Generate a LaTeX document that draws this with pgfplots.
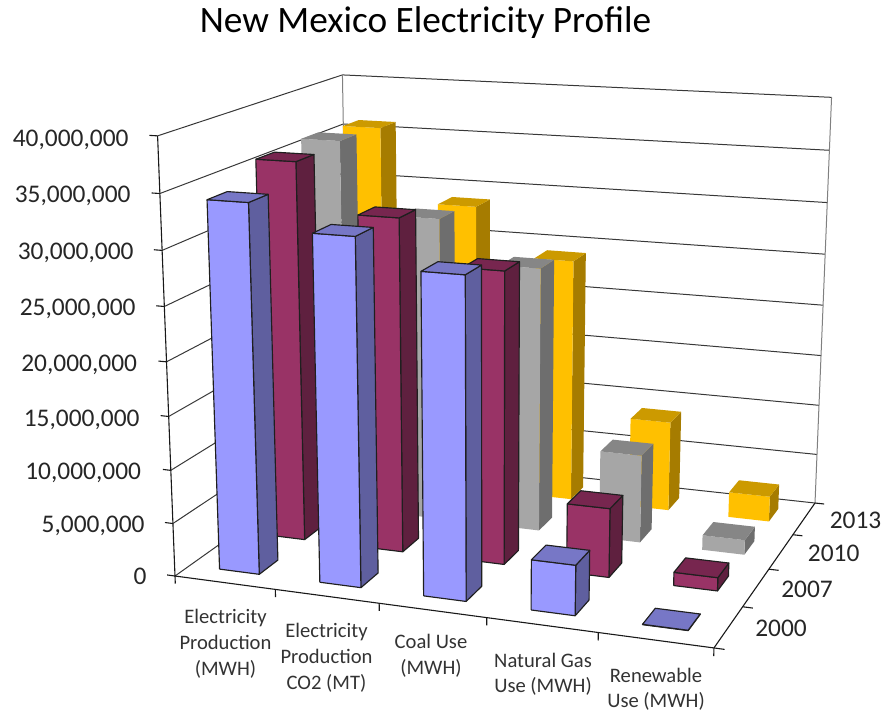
\documentclass[border=0pt]{standalone}
\usepackage{fontspec}
\setmainfont{Carlito}
\usepackage{pgfplots}
\pgfplotsset{compat=1.18}

% Fill colours of the bars: front, side and top face
\definecolor{blueF}{HTML}{9999FF}\definecolor{blueS}{HTML}{5F5F9F}\definecolor{blueT}{HTML}{7777C6}
\definecolor{maroF}{HTML}{993366}\definecolor{maroS}{HTML}{5F203F}\definecolor{maroT}{HTML}{77264F}
\definecolor{grayF}{HTML}{A6A6A6}\definecolor{grayS}{HTML}{6E6E6E}\definecolor{grayT}{HTML}{868686}
\definecolor{yellF}{HTML}{FFC000}\definecolor{yellS}{HTML}{A67C00}\definecolor{yellT}{HTML}{CC9A00}

\pgfplotsset{
  edgeblue/.style={draw=black!88,line width=1.15pt,line join=round},
  edgemaro/.style={draw=black!88,line width=1.15pt,line join=round},
  edgegray/.style={draw=none},
  edgeyell/.style={draw=none},
  gridline/.style={draw=black!78,line width=1pt},
  walledge/.style={draw=black!50,line width=1pt},
  axisline/.style={draw=black!90,line width=1.1pt},
}

% Perspective projection of (u,v,w) in the unit box to page coordinates:
% u runs along the categories, v along the years, w up the value axis.
\newcommand\proj[4]{%
  \pgfmathsetmacro\prjD{-0.085*(#1)+0.175*(#2)-0.0526*(#3)+1}%
  \pgfmathsetmacro\prjX{(478.3*(#1)+235.05*(#2)-25.7*(#3)+175)/\prjD}%
  \pgfmathsetmacro\prjY{(16.9*(#1)-44.63*(#2)-447.3*(#3)+576)/\prjD}%
  \expandafter\edef\csname #4\endcsname{(\prjX,\prjY)}%
}
\newcommand\segment[7]{%
  \proj{#2}{#3}{#4}{ptA}\proj{#5}{#6}{#7}{ptB}%
  \edef\plotcmd{\noexpand\addplot[#1] coordinates {\ptA\ptB};}\plotcmd
}
% One bar: category index, year index, value in millions, colour prefix
\newcommand\drawbar[4]{%
  \pgfmathsetmacro\bUl{(#1+0.3)/5}\pgfmathsetmacro\bUr{(#1+0.7)/5}%
  \pgfmathsetmacro\bVf{(#2+0.3)/4}\pgfmathsetmacro\bVb{(#2+0.7)/4}%
  \pgfmathsetmacro\bW{#3/40}%
  \proj{\bUl}{\bVf}{0}{pa}\proj{\bUr}{\bVf}{0}{pb}\proj{\bUr}{\bVb}{0}{pc}%
  \proj{\bUl}{\bVf}{\bW}{pe}\proj{\bUr}{\bVf}{\bW}{pf}\proj{\bUr}{\bVb}{\bW}{pg}\proj{\bUl}{\bVb}{\bW}{ph}%
  \edef\plotcmd{\noexpand\addplot[fill=#4S,edge#4] coordinates {\pb\pc\pg\pf\pb};}\plotcmd
  \edef\plotcmd{\noexpand\addplot[fill=#4F,edge#4] coordinates {\pa\pb\pf\pe\pa};}\plotcmd
  \edef\plotcmd{\noexpand\addplot[fill=#4T,edge#4] coordinates {\pe\pf\pg\ph\pe};}\plotcmd
}
\newcommand\vlabel[3]{\node[anchor=base east,font=\fontsize{25.4}{28}\selectfont,text=black!85] at (axis cs:#1,#2) {#3};}
\newcommand\ylabel[3]{\node[anchor=base,font=\fontsize{25.4}{28}\selectfont,text=black!85] at (axis cs:#1,#2) {#3};}
\newcommand\clabel[3]{\node[anchor=base,font=\fontsize{20.6}{24}\selectfont,text=black!80] at (axis cs:#1,#2) {#3};}

\begin{document}
\begin{tikzpicture}
\begin{axis}[
  scale only axis,width=885pt,height=713pt,
  xmin=0,xmax=885,ymin=0,ymax=713,y dir=reverse,
  hide axis,clip=false,
]
% Page frame, so the drawing keeps its full extent
\path (axis cs:0,0) rectangle (axis cs:885,713);
% Side wall and back wall with their value lines
\pgfplotsforeachungrouped \k in {0,...,8}{%
  \pgfmathsetmacro\kw{\k/8}%
  \segment{gridline}{0}{0}{\kw}{0}{1}{\kw}%
  \segment{gridline}{0}{1}{\kw}{1}{1}{\kw}%
  \segment{axisline}{0}{0}{\kw}{-0.016}{0}{\kw}%
}
\segment{walledge}{0}{1}{0}{0}{1}{1}
\segment{walledge}{1}{1}{0}{1}{1}{1}
% Floor edges and their tick marks
\segment{axisline}{0}{0}{0}{0}{0}{1}
\segment{axisline}{0}{0}{0}{1}{0}{0}
\segment{axisline}{1}{0}{0}{1}{1}{0}
\pgfplotsforeachungrouped \k in {0,...,5}{%
  \pgfmathsetmacro\ku{\k/5}%
  \segment{axisline}{\ku}{0}{0}{\ku}{0}{-0.018}%
}
\pgfplotsforeachungrouped \k in {0,...,4}{%
  \pgfmathsetmacro\kv{\k/4}%
  \segment{axisline}{1}{\kv}{0}{1.018}{\kv}{0}%
}

% Values in millions, back row first so that nearer bars overlap farther ones
% 2013
\drawbar{0}{3}{36.0}{yell}\drawbar{1}{3}{28.8}{yell}\drawbar{2}{3}{24.1}{yell}\drawbar{3}{3}{8.9}{yell}\drawbar{4}{3}{2.5}{yell}
% 2010
\drawbar{0}{2}{36.3}{gray}\drawbar{1}{2}{29.5}{gray}\drawbar{2}{2}{25.5}{gray}\drawbar{3}{2}{8.5}{gray}\drawbar{4}{2}{1.42}{gray}
% 2007
\drawbar{0}{1}{36.0}{maro}\drawbar{1}{1}{31.5}{maro}\drawbar{2}{1}{27.4}{maro}\drawbar{3}{1}{6.5}{maro}\drawbar{4}{1}{1.24}{maro}
% 2000
\drawbar{0}{0}{34.1}{blue}\drawbar{1}{0}{31.8}{blue}\drawbar{2}{0}{29.2}{blue}\drawbar{3}{0}{4.6}{blue}\drawbar{4}{0}{0.03}{blue}

% Title and axis labels
\node[anchor=base,font=\fontsize{37.3}{40}\selectfont,text=black] at (axis cs:425.5,32) {New Mexico Electricity Profile};
\vlabel{132}{146}{40,000,000}
\vlabel{134}{202}{35,000,000}
\vlabel{137}{259}{30,000,000}
\vlabel{139}{315}{25,000,000}
\vlabel{140.5}{371}{20,000,000}
\vlabel{143}{426}{15,000,000}
\vlabel{144.5}{479}{10,000,000}
\vlabel{148}{532}{5,000,000}
\vlabel{150}{584}{0}
\ylabel{781}{636}{2000}
\ylabel{807}{597}{2007}
\ylabel{833.7}{561}{2010}
\ylabel{855.5}{528}{2013}
\clabel{225.5}{623}{Electricity}
\clabel{225.5}{649}{Production}
\clabel{225.5}{675}{(MWH)}
\clabel{326.5}{637}{Electricity}
\clabel{326.5}{663}{Production}
\clabel{326.5}{689}{CO2 (MT)}
\clabel{431}{648}{Coal Use}
\clabel{431}{674}{(MWH)}
\clabel{543}{667}{Natural Gas}
\clabel{543}{692}{Use (MWH)}
\clabel{656}{682}{Renewable}
\clabel{656}{707}{Use (MWH)}
\end{axis}
\end{tikzpicture}
\end{document}
